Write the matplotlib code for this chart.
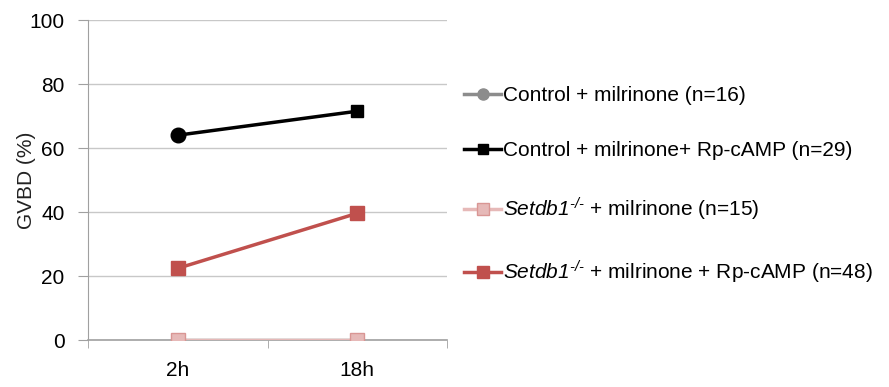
import matplotlib
matplotlib.use('Agg')
import matplotlib.pyplot as plt
from matplotlib.lines import Line2D

plt.rcParams['font.family'] = ['Liberation Sans', 'DejaVu Sans']
plt.rcParams['mathtext.fontset'] = 'custom'
plt.rcParams['mathtext.rm'] = 'Liberation Sans:italic'
plt.rcParams['mathtext.it'] = 'Liberation Sans:italic'

# datos
tiempos = ['2h', '18h']
control_mil = [0, 0]
control_mil_rp = [64.0, 71.5]
setdb1_mil = [0, 0]
setdb1_mil_rp = [22.4, 39.6]

etiquetas = [
    'Control + milrinone (n=16)',
    'Control + milrinone+ Rp-cAMP (n=29)',
    r'$\mathrm{Setdb1}^{\mathrm{‐/‐}}$ + milrinone (n=15)',
    r'$\mathrm{Setdb1}^{\mathrm{‐/‐}}$ + milrinone + Rp-cAMP (n=48)',
]

gris = '#8c8c8c'
negro = '#000000'
rosa = '#E6B9B8'
rosa_borde = '#D99694'
rojo = '#C0504D'

fig = plt.figure(figsize=(8.89, 3.87), dpi=100)
ax = fig.add_axes([88 / 889, 1 - 340 / 387, (447 - 88) / 889, 320 / 387])

x = list(range(len(tiempos)))
ax.plot(x, control_mil, color=gris, lw=2.5, marker='o', ms=9, zorder=2)
ax.plot(x, control_mil_rp, color=negro, lw=2.5, zorder=3)
ax.plot(x[0], control_mil_rp[0], color=negro, marker='o', ms=10.5, zorder=4)
ax.plot(x[1:], control_mil_rp[1:], color=negro, marker='s', ms=9, ls='none', zorder=4)
ax.plot(x, setdb1_mil, color=rosa, lw=2.5, marker='s', ms=10.5,
        mec=rosa_borde, mew=1, zorder=3)
ax.plot(x, setdb1_mil_rp, color=rojo, lw=2.5, marker='s', ms=10.5, zorder=3)

ax.set_xlim(-0.5, 1.5)
ax.set_ylim(0, 100)
ax.set_yticks(range(0, 101, 20))
ax.set_xticks(x)
ax.set_xticklabels(tiempos)
ax.set_xticks([-0.5, 0.5, 1.5], minor=True)
ax.tick_params(axis='x', which='major', length=0, labelsize=15, pad=15)
ax.tick_params(axis='x', which='minor', length=6, color='#a0a0a0', direction='out')
ax.tick_params(axis='y', length=7, color='#a0a0a0', labelsize=15, pad=10)
ax.set_ylabel('GVBD (%)', fontsize=15, color='#222222', labelpad=-5)
ax.grid(axis='y', color='#c8c8c8', lw=1)
ax.set_axisbelow(True)
for s in ['top', 'right', 'bottom']:
    ax.spines[s].set_visible(False)
ax.spines['left'].set_color('#a0a0a0')
ax.plot([-0.5, 1.5], [0, 0], color='#a0a0a0', lw=1.2, zorder=1, clip_on=False)

handles = [
    Line2D([], [], color=gris, lw=2.5, marker='o', ms=8),
    Line2D([], [], color=negro, lw=2.5, marker='s', ms=7),
    Line2D([], [], color=rosa, lw=2.5, marker='s', ms=9, mec=rosa_borde),
    Line2D([], [], color=rojo, lw=2.5, marker='s', ms=9),
]
fig.legend(handles, etiquetas, loc='upper left', bbox_to_anchor=(456 / 889, 1 - 78 / 387),
           frameon=False, fontsize=15, handlelength=1.75, handletextpad=0.1,
           labelspacing=1.72, borderaxespad=0)

fig.savefig('out.png', dpi=100)
